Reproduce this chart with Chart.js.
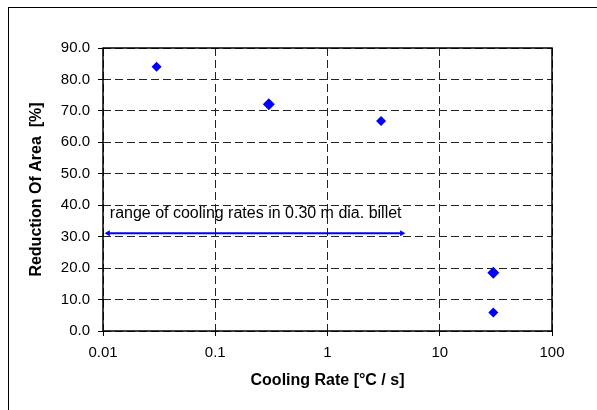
<!DOCTYPE html>
<html>
<head>
<meta charset="utf-8">
<script src="https://cdn.jsdelivr.net/npm/chart.js@4/dist/chart.umd.min.js"></script>
<style>
  html, body { margin: 0; padding: 0; background: #fff; }
  #wrap { width: 597px; height: 410px; }
</style>
</head>
<body>
<div id="wrap"><canvas id="myChart" width="597" height="410"></canvas></div>
<script>
"use strict";

// measured points
let coolingRate = [0.03, 0.3, 3, 30, 30]
let reduction   = [84.0, 72.1, 66.8, 18.5, 5.9]

// billet cooling range arrow
let rangeX = [0.0111, 4.6]
let rangeY = [31.1, 31.1]
let noteText = "range of cooling rates in 0.30 m dia. billet"
let noteX = 0.0115
let noteY = 37.3

let xTicks = [0.01, 0.1, 1, 10, 100]
let xTickLabels = ["0.01", "0.1", "1", "10", "100"]
let yTicks = [0, 10, 20, 30, 40, 50, 60, 70, 80, 90]

const fontFam = "'Liberation Sans', Arial, sans-serif";

// frame around the plot area plus outer chart border, and the text note
const extras = {
    id: 'extras',
    beforeDraw(chart) {
        const c = chart.ctx;
        c.save();
        c.fillStyle = '#fff';
        c.fillRect(0, 0, chart.width, chart.height);
        c.strokeStyle = '#000';
        c.lineWidth = 1;
        c.strokeRect(8.5, 7.5, 700, 700);
        c.restore();
    },
    afterDatasetsDraw(chart) {
        const c = chart.ctx;
        const a = chart.chartArea;
        c.save();
        c.strokeStyle = '#000';
        c.lineWidth = 1.5;
        c.strokeRect(a.left, a.top, a.right - a.left, a.bottom - a.top);
        c.fillStyle = '#000';
        c.font = '16px ' + fontFam;
        c.textBaseline = 'middle';
        c.textAlign = 'left';
        c.fillText(noteText, chart.scales.x.getPixelForValue(noteX), chart.scales.y.getPixelForValue(noteY));
        c.restore();
    }
};

function makeChart() {
    const ctx = document.getElementById('myChart').getContext('2d');

    const points = coolingRate.map((x, i) => ({x: x, y: reduction[i]}));
    const arrow  = rangeX.map((x, i) => ({x: x, y: rangeY[i]}));

    const gridOpts = {
        color: '#222',
        lineWidth: 1,
        tickLength: 5,
        tickColor: '#000',
        tickBorderDash: []
    };

    new Chart(ctx, {
        type: 'scatter',
        data: {
            datasets: [{
                label: 'Reduction of area',
                data: points,
                pointStyle: 'rectRot',
                radius: [5, 6, 5, 6, 5],
                backgroundColor: '#0000ff',
                borderColor: '#0000ff',
                borderWidth: 0
            }, {
                label: 'range',
                data: arrow,
                showLine: true,
                borderColor: '#0000ff',
                borderWidth: 2,
                pointStyle: 'triangle',
                rotation: [-90, 90],
                radius: 3.5,
                backgroundColor: '#0000ff',
                pointBorderWidth: 0
            }]
        },
        options: {
            responsive: false,
            animation: false,
            devicePixelRatio: 1,
            layout: { padding: { left: 20, top: 48, right: 45, bottom: 20 } },
            plugins: { legend: { display: false }, tooltip: { enabled: false } },
            scales: {
                x: {
                    type: 'logarithmic',
                    min: 0.01,
                    max: 100,
                    afterBuildTicks: s => { s.ticks = xTicks.map(v => ({value: v})); },
                    afterFit: s => { s.height = 59; },
                    border: { display: false, dash: [8, 4] },
                    grid: gridOpts,
                    ticks: {
                        color: '#000',
                        padding: 8,
                        maxRotation: 0,
                        autoSkip: false,
                        font: { family: fontFam, size: 15 },
                        callback: (v, i) => xTickLabels[i]
                    },
                    title: {
                        display: true,
                        text: 'Cooling Rate [°C / s]',
                        color: '#000',
                        padding: { top: 0, bottom: 0 },
                        font: { family: fontFam, size: 16, weight: 'bold' }
                    }
                },
                y: {
                    min: 0,
                    max: 90,
                    afterBuildTicks: s => { s.ticks = yTicks.map(v => ({value: v})); },
                    afterFit: s => { s.width = 83; },
                    border: { display: false, dash: [8, 4] },
                    grid: gridOpts,
                    ticks: {
                        color: '#000',
                        padding: 8,
                        font: { family: fontFam, size: 15 },
                        callback: v => v.toFixed(1)
                    },
                    title: {
                        display: true,
                        text: 'Reduction Of Area  [%]',
                        color: '#000',
                        padding: { top: 7, bottom: 0 },
                        font: { family: fontFam, size: 16, weight: 'bold' }
                    }
                }
            }
        },
        plugins: [extras]
    });
}

makeChart();
</script>
</body>
</html>
